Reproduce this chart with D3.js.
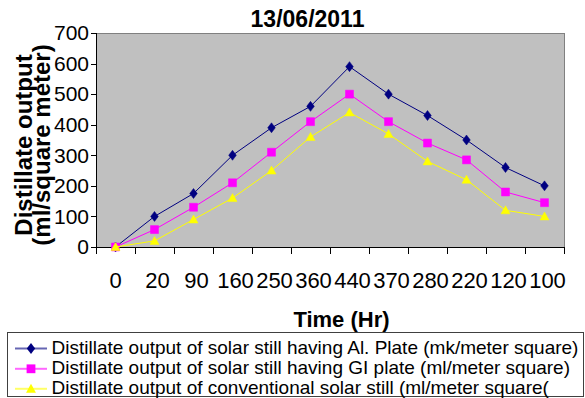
<!DOCTYPE html>
<html>
<head>
<meta charset="utf-8">
<script src="https://cdn.jsdelivr.net/npm/d3@7"></script>
<style>
  body { margin: 0; background: #fff; }
  svg { display: block; }
  svg text { font-family: "Liberation Sans", Arial, sans-serif; }
</style>
</head>
<body>
<script>
// data
var timeLabels = ["0","20","90","160","250","360","440","370","280","220","120","100"];
var alPlate = [0, 100, 175, 300, 390, 460, 590, 500, 430, 350, 260, 200];
var giPlate = [0, 57, 130, 210, 310, 410, 500, 410, 340, 285, 180, 145];
var conventional = [0, 20, 90, 160, 250, 360, 440, 370, 280, 220, 120, 100];
var seriesNames = [
  "Distillate output of solar still having Al. Plate (mk/meter square)",
  "Distillate output of solar still having GI plate (ml/meter square)",
  "Distillate output of conventional solar still (ml/meter square("
];
var yTicks = [0, 100, 200, 300, 400, 500, 600, 700];

var W = 585, H = 398;
var plot = {left: 96, top: 33, right: 564, bottom: 247};
var FONT = "'Liberation Sans', Arial, sans-serif";

var SERIES = [
  {name: seriesNames[0], values: alPlate, color: "#000080", shape: "diamond"},
  {name: seriesNames[1], values: giPlate, color: "#FF00FF", shape: "square"},
  {name: seriesNames[2], values: conventional, color: "#FFFF00", shape: "triangle"}
];

var SVG = d3.select("body").append("svg").attr("width", W).attr("height", H);

var x = d3.scaleBand().domain(d3.range(timeLabels.length)).range([plot.left, plot.right]).padding(0);
var y = d3.scaleLinear().domain([0, 700]).range([plot.bottom, plot.top]);

// plot area
SVG.append("rect")
   .attr("x", plot.left).attr("y", plot.top)
   .attr("width", plot.right - plot.left).attr("height", plot.bottom - plot.top)
   .attr("fill", "#C0C0C0").attr("stroke", "#808080").attr("stroke-width", 1)
   .attr("shape-rendering", "crispEdges");

function markerPath(shape, s) {
  if (shape == "diamond") {
    return "M0," + (-5*s) + "L" + (3.8*s) + ",0L0," + (5*s) + "L" + (-3.8*s) + ",0Z";
  }
  if (shape == "square") {
    return "M" + (-4*s) + "," + (-4*s) + "h" + (8*s) + "v" + (8*s) + "h" + (-8*s) + "Z";
  }
  return "M0," + (-4.5*s) + "L" + (4.5*s) + "," + (3.5*s) + "L" + (-4.5*s) + "," + (3.5*s) + "Z";
}

// y axis
var yAxis = d3.axisLeft(y).tickValues(yTicks).tickSize(5).tickPadding(2).tickFormat(d3.format("d"));
var gy = SVG.append("g").attr("transform", "translate(" + plot.left + ",0)").call(yAxis);
gy.attr("font-family", FONT);
gy.select(".domain").attr("stroke", "#000").attr("shape-rendering", "crispEdges");
gy.selectAll(".tick line").attr("stroke", "#000").attr("shape-rendering", "crispEdges");
gy.selectAll(".tick text").attr("font-size", 21).attr("fill", "#000");

// x axis: ticks on band edges, labels near band centers
var gx = SVG.append("g");
gx.append("line").attr("x1", plot.left).attr("x2", plot.right)
  .attr("y1", plot.bottom).attr("y2", plot.bottom)
  .attr("stroke", "#000").attr("shape-rendering", "crispEdges");
gx.selectAll(".xt").data(d3.range(timeLabels.length + 1)).enter().append("line")
  .attr("class", "xt")
  .attr("x1", function(i){ return i < timeLabels.length ? x(i) : plot.right; })
  .attr("x2", function(i){ return i < timeLabels.length ? x(i) : plot.right; })
  .attr("y1", plot.bottom).attr("y2", plot.bottom + 7)
  .attr("stroke", "#000").attr("shape-rendering", "crispEdges");
gx.selectAll(".xl").data(timeLabels).enter().append("text")
  .attr("class", "xl")
  .attr("x", function(d, i){ return x(i) + x.bandwidth() / 2 + (i > 0 ? 3 : 0); })
  .attr("y", 288)
  .attr("text-anchor", "middle").attr("font-size", 22).attr("fill", "#000")
  .text(function(d){ return d; });

// lines and markers
var line = d3.line()
  .x(function(d, i){ return x(i) + x.bandwidth() / 2; })
  .y(function(d){ return y(d); });

SERIES.forEach(function(s) {
  SVG.append("path").datum(s.values)
     .attr("d", line).attr("fill", "none").attr("stroke", s.color).attr("stroke-width", 1);
  SVG.selectAll(".m-" + s.shape).data(s.values).enter().append("path")
     .attr("class", "m-" + s.shape)
     .attr("transform", function(d, i){ return "translate(" + (x(i) + x.bandwidth() / 2) + "," + y(d) + ")"; })
     .attr("d", markerPath(s.shape, 1))
     .attr("fill", s.color).attr("stroke", s.color).attr("stroke-width", 0.5);
});

// titles
SVG.append("text").attr("x", 307.5).attr("y", 26.7)
   .attr("text-anchor", "middle").attr("font-size", 23).attr("font-weight", "bold")
   .text("13/06/2011");

SVG.append("text").attr("x", 341.5).attr("y", 326.5)
   .attr("text-anchor", "middle").attr("font-size", 22).attr("font-weight", "bold")
   .text("Time (Hr)");

var yt = SVG.append("g").attr("transform", "translate(0,145) rotate(-90)");
yt.append("text").attr("x", 0).attr("y", 31.5)
  .attr("text-anchor", "middle").attr("font-size", 24).attr("font-weight", "bold")
  .text("Distillate output");
yt.append("text").attr("x", 0).attr("y", 49.5)
  .attr("text-anchor", "middle").attr("font-size", 24).attr("font-weight", "bold")
  .text("(ml/square meter)");

// legend
var LEGEND = SVG.append("g");
LEGEND.append("rect").attr("x", 7.5).attr("y", 332.5).attr("width", 576).attr("height", 64)
  .attr("fill", "#fff").attr("stroke", "#404040").attr("stroke-width", 1);
var rowY = [348.5, 368.8, 388.8];
SERIES.forEach(function(s, i) {
  var g = LEGEND.append("g").attr("transform", "translate(0," + rowY[i] + ")");
  g.append("line").attr("x1", 15).attr("x2", 47).attr("y1", 0).attr("y2", 0)
   .attr("stroke", s.color).attr("stroke-width", 2).attr("stroke-opacity", 0.6);
  g.append("path").attr("transform", "translate(31,0)").attr("d", markerPath(s.shape, 1.1))
   .attr("fill", s.color);
  g.append("text").attr("x", 51.5).attr("y", 5.5).attr("font-size", 19).attr("fill", "#000")
   .text(s.name);
});
</script>
</body>
</html>
